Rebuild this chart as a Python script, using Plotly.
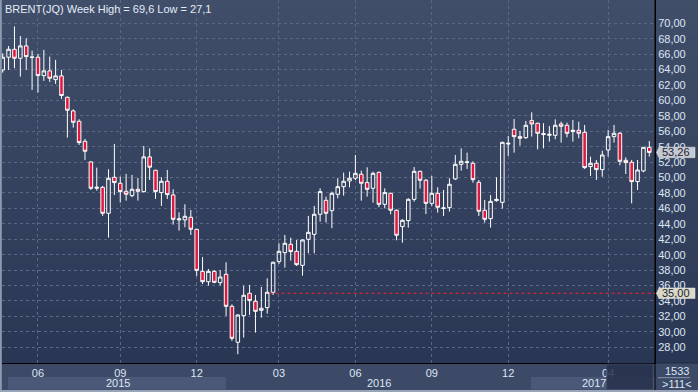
import plotly.graph_objects as go
import pandas as pd

# ---- data (weekly OHLC) ----
open_ = [63.95, 65.60, 66.63, 65.47, 67.07, 65.58, 65.60, 63.22, 63.83, 62.70,
         63.18, 60.41, 58.64, 57.30, 54.70, 52.03, 48.61, 48.74, 45.37, 50.04,
         49.26, 48.22, 47.66, 48.48, 48.18, 52.68, 50.95, 48.05, 49.52, 47.75,
         44.51, 44.51, 44.85, 43.29, 37.84, 36.50, 37.84, 36.38, 37.46, 33.31,
         28.65, 32.10, 35.00, 33.96, 32.79, 33.14, 35.13, 39.10, 40.27, 41.35,
         40.44, 38.62, 42.00, 42.64, 45.24, 47.05, 45.71, 47.83, 48.82, 49.56,
         49.91, 50.43, 49.35, 48.61, 50.68, 46.53, 47.96, 45.76, 43.64, 44.42,
         47.18, 50.81, 49.65, 46.66, 47.96, 46.00, 46.10, 49.82, 51.72, 51.96,
         51.85, 49.39, 45.76, 44.68, 47.01, 46.79, 54.35, 56.26, 55.31, 55.18,
         57.38, 57.04, 55.57, 55.48, 55.48, 56.95, 56.78, 55.96, 56.13, 55.87,
         51.42, 51.85, 51.03, 53.58, 55.31, 55.74, 52.24, 51.98, 49.47, 50.86,
         53.92]
high = [66.10, 67.06, 69.60, 68.36, 68.06, 66.46, 66.03, 66.55, 65.68, 65.25,
        63.96, 60.50, 58.85, 57.56, 55.01, 52.12, 51.29, 48.92, 51.08, 54.36,
        50.13, 50.47, 50.34, 49.95, 54.10, 53.80, 51.00, 50.04, 50.99, 48.48,
        45.50, 46.54, 45.80, 43.35, 39.70, 38.15, 38.02, 38.02, 39.02, 33.57,
        32.27, 35.99, 36.08, 34.78, 35.82, 36.94, 39.10, 41.48, 42.56, 42.21,
        41.91, 42.00, 45.03, 46.32, 48.61, 47.53, 48.18, 49.91, 50.64, 50.77,
        52.93, 50.90, 51.33, 50.77, 50.77, 48.60, 48.05, 45.89, 44.59, 47.31,
        51.37, 50.90, 49.82, 50.21, 48.74, 48.39, 49.91, 52.93, 53.79, 53.23,
        52.11, 49.69, 47.10, 47.75, 50.04, 54.65, 55.39, 57.60, 56.04, 57.34,
        58.46, 57.12, 57.04, 56.69, 57.55, 57.25, 57.12, 57.47, 57.25, 56.82,
        52.71, 52.28, 53.49, 56.17, 56.82, 55.91, 52.63, 52.28, 52.28, 53.92,
        54.74]
low = [63.60, 63.95, 64.17, 63.09, 63.95, 61.36, 61.02, 62.53, 62.40, 62.14,
       60.20, 55.18, 56.48, 54.23, 52.29, 48.40, 48.31, 45.03, 42.22, 47.75,
       46.76, 47.01, 47.45, 47.01, 48.05, 49.69, 47.23, 46.32, 47.23, 43.90,
       43.13, 43.56, 42.56, 37.24, 36.20, 35.99, 36.29, 35.99, 32.06, 28.82,
       27.10, 29.25, 32.19, 29.90, 31.84, 32.36, 34.78, 38.80, 38.32, 39.23,
       38.54, 37.28, 40.18, 40.18, 44.29, 44.16, 43.43, 47.31, 47.66, 48.74,
       49.69, 47.00, 47.53, 46.75, 46.15, 46.01, 45.24, 41.87, 41.56, 43.51,
       46.88, 48.57, 45.28, 46.32, 45.45, 45.02, 45.59, 49.69, 50.90, 51.12,
       49.34, 45.02, 44.16, 43.51, 46.88, 45.97, 52.80, 53.23, 54.14, 55.00,
       55.31, 53.66, 53.79, 54.66, 54.96, 54.53, 55.22, 54.66, 55.09, 51.12,
       50.20, 49.69, 50.11, 52.71, 54.53, 51.59, 50.46, 46.66, 48.39, 50.68,
       52.71]
close = [65.60, 66.63, 65.47, 67.07, 65.68, 65.62, 63.22, 63.83, 62.88, 63.18,
         60.63, 58.73, 57.17, 54.53, 53.41, 48.61, 48.74, 45.37, 49.91, 49.35,
         48.18, 47.84, 48.48, 48.22, 52.68, 51.34, 48.18, 49.52, 47.79, 44.59,
         44.64, 44.98, 43.30, 37.97, 36.50, 37.84, 36.42, 37.11, 33.31, 29.16,
         32.19, 34.74, 34.05, 32.66, 33.05, 35.13, 39.02, 40.44, 41.48, 40.40,
         38.71, 41.91, 42.90, 45.24, 48.18, 45.37, 47.96, 48.82, 49.52, 49.91,
         50.55, 49.26, 48.48, 50.55, 46.53, 48.05, 45.76, 42.52, 44.46, 47.18,
         50.81, 49.65, 46.66, 47.96, 46.15, 46.06, 49.13, 51.72, 52.11, 52.02,
         49.73, 45.63, 44.59, 46.92, 47.18, 54.57, 54.44, 55.31, 55.09, 56.78,
         56.95, 55.74, 55.70, 55.61, 56.78, 56.65, 55.74, 56.13, 55.74, 51.29,
         51.85, 51.03, 52.93, 55.31, 55.74, 52.11, 51.94, 49.47, 50.98, 53.92,
         53.26]

weeks = pd.date_range("2015-04-20", periods=len(close), freq="W-MON").strftime("%Y-%m-%d").tolist()

tick_dates = ["2015-06-01", "2015-09-07", "2015-12-07", "2016-03-14",
              "2016-06-13", "2016-09-12", "2016-12-12", "2017-04-10"]
tick_text = ["06", "09", "12", "03", "06", "09", "12", "04"]
y_ticks = [28, 30, 32, 34, 36, 38, 40, 42, 44, 46, 48, 50, 52, 54, 56, 58, 60,
           62, 64, 66, 68, 70]
years = ["2015", "2016", "2017"]
year_pos = [19.6, 64.0, 100.6]
alert_level = 35.0
total_bars = 1533

FONT = "Liberation Sans Narrow, Liberation Sans, Arial, sans-serif"
TXT = "#dde6f4"

fig = go.Figure()
fig.add_trace(go.Candlestick(
    x=weeks, open=open_, high=high, low=low, close=close,
    increasing=dict(line=dict(color="#ffffff", width=1), fillcolor="rgba(0,0,0,0)"),
    decreasing=dict(line=dict(color="#ffffff", width=1), fillcolor="#e0173f"),
    whiskerwidth=0, showlegend=False, hoverinfo="skip"))

shapes = []
# background gradient (plot + right axis area)
top_c = (64, 78, 106)
bot_c = (42, 55, 84)
N = 40
for i in range(N):
    t = (i + 0.5) / N
    c = tuple(int(round(bot_c[k] + (top_c[k] - bot_c[k]) * t)) for k in range(3))
    shapes.append(dict(type="rect", xref="paper", yref="paper", x0=-0.01, x1=1.07,
                       y0=i / N, y1=(i + 1) / N + 0.002, fillcolor="rgb(%d,%d,%d)" % c,
                       line=dict(width=0), layer="below"))
# bottom strip
shapes.append(dict(type="rect", xref="paper", yref="paper", x0=-0.01, x1=1.07,
                   y0=-0.09, y1=0, fillcolor="#3c4967", line=dict(width=0), layer="below"))
# year bands
for x0, x1 in [(0.9, 37.95), (89.85, 111.5)]:
    shapes.append(dict(type="rect", xref="x", yref="paper", x0=x0, x1=x1,
                       y0=-0.073, y1=-0.0386, fillcolor="#4b5877", line=dict(width=0),
                       layer="below"))
# left / bottom light frame
shapes.append(dict(type="rect", xref="paper", yref="paper", x0=-0.0035, x1=-0.0003,
                   y0=-0.09, y1=1.01, fillcolor="#8e9ab0", line=dict(width=0), layer="below"))
shapes.append(dict(type="rect", xref="paper", yref="paper", x0=-0.01, x1=1.07,
                   y0=-0.09, y1=-0.0744, fillcolor="#9aa4b8", line=dict(width=0), layer="below"))
# right axis line full height
shapes.append(dict(type="line", xref="paper", yref="paper", x0=1.0, x1=1.0,
                   y0=-0.0744, y1=1.0, line=dict(color="#000000", width=1), layer="above"))
shapes.append(dict(type="line", xref="paper", yref="paper", x0=1.0, x1=1.07,
                   y0=0, y1=0, line=dict(color="#232b40", width=1), layer="below"))
# alert line
shapes.append(dict(type="line", xref="x", yref="y", x0=45.4, x1=111.5,
                   y0=alert_level, y1=alert_level,
                   line=dict(color="#ff1e2e", width=1.2, dash="3px,3px"), layer="above"))
# price label boxes
def label_box(yv, fill):
    h = 0.68
    tip, left, right = 1.0023, 1.0061, 1.0613
    return dict(type="path", xref="paper", yref="y",
                path=f"M {tip},{yv} L {left},{yv + h} L {right},{yv + h} L {right},{yv - h} L {left},{yv - h} Z",
                fillcolor=fill, line=dict(color="#e8e8e8", width=0.5), layer="above")
shapes.append(label_box(close[-1], "#c5c9d1"))
shapes.append(label_box(alert_level, "#d9d9c6"))
# dark overlay at bottom right of date strip
shapes.append(dict(type="rect", xref="x", yref="paper", x0=102.75, x1=110.63,
                   y0=-0.073, y1=-0.003, fillcolor="rgba(38,48,74,0.85)",
                   line=dict(color="rgba(70,82,110,0.6)", width=1), layer="above"))
# separator in corner
shapes.append(dict(type="line", xref="paper", yref="paper", x0=1.0046, x1=1.0536,
                   y0=-0.0405, y1=-0.0405, line=dict(color="#8a96ad", width=1), layer="above"))

def fmt(v, d):
    return f"{v:.{d}f}".replace(".", ",")

annotations = [
    dict(text=f"BRENT(JQ) Week High = {fmt(max(high), 1)} Low = {fmt(min(low), 1)}",
         xref="paper", yref="paper", x=0, y=1, xanchor="left", yanchor="top",
         xshift=1, yshift=-1, showarrow=False, font=dict(family=FONT, size=11, color="#e6ecf7")),
    dict(text=fmt(close[-1], 2), xref="paper", yref="y", x=1.0075, y=close[-1],
         xanchor="left", yanchor="middle", showarrow=False,
         font=dict(family=FONT, size=11, color="#1c2436")),
    dict(text=fmt(alert_level, 2), xref="paper", yref="y", x=1.0075, y=alert_level,
         xanchor="left", yanchor="middle", showarrow=False,
         font=dict(family=FONT, size=11, color="#1c2436")),
    dict(text=str(total_bars), xref="paper", yref="paper", x=1.0337, y=-0.022,
         xanchor="center", yanchor="middle", showarrow=False,
         font=dict(family=FONT, size=11, color=TXT)),
    dict(text="&gt;%d&lt;" % len(close), xref="paper", yref="paper", x=1.0337, y=-0.0565,
         xanchor="center", yanchor="middle", showarrow=False,
         font=dict(family=FONT, size=11, color=TXT)),
]
for yr, xp in zip(years, year_pos):
    annotations.append(dict(text=yr, xref="x", yref="paper", x=xp, y=-0.055,
                            xanchor="center", yanchor="middle", showarrow=False,
                            font=dict(family=FONT, size=11, color=TXT)))

fig.update_layout(
    width=698, height=392,
    margin=dict(l=2, r=43, t=0, b=29),
    paper_bgcolor="#3c4967", plot_bgcolor="rgba(0,0,0,0)",
    separators=", ",
    boxgap=0.4, boxgroupgap=0,
    shapes=shapes, annotations=annotations,
    font=dict(family=FONT, size=11, color=TXT),
    xaxis=dict(type="category", range=[-0.119, 110.97], rangeslider=dict(visible=False),
               tickmode="array", tickvals=tick_dates, ticktext=tick_text,
               showgrid=True, gridcolor="#5a6786", gridwidth=1, griddash="3px,3px",
               showline=True, linecolor="#000000", linewidth=1, ticks="",
               tickfont=dict(family=FONT, size=11, color=TXT), zeroline=False),
    yaxis=dict(side="right", range=[25.96, 73.02], tickmode="array", tickvals=y_ticks,
               tickformat=".2f", showgrid=True, gridcolor="#5a6786", gridwidth=1,
               griddash="3px,3px", showline=True, linecolor="#000000", linewidth=1,
               ticks="", tickfont=dict(family=FONT, size=11, color=TXT), zeroline=False),
)

fig.write_html("out.html", config={"displayModeBar": False},
               post_script="document.body.style.margin='0px';")
